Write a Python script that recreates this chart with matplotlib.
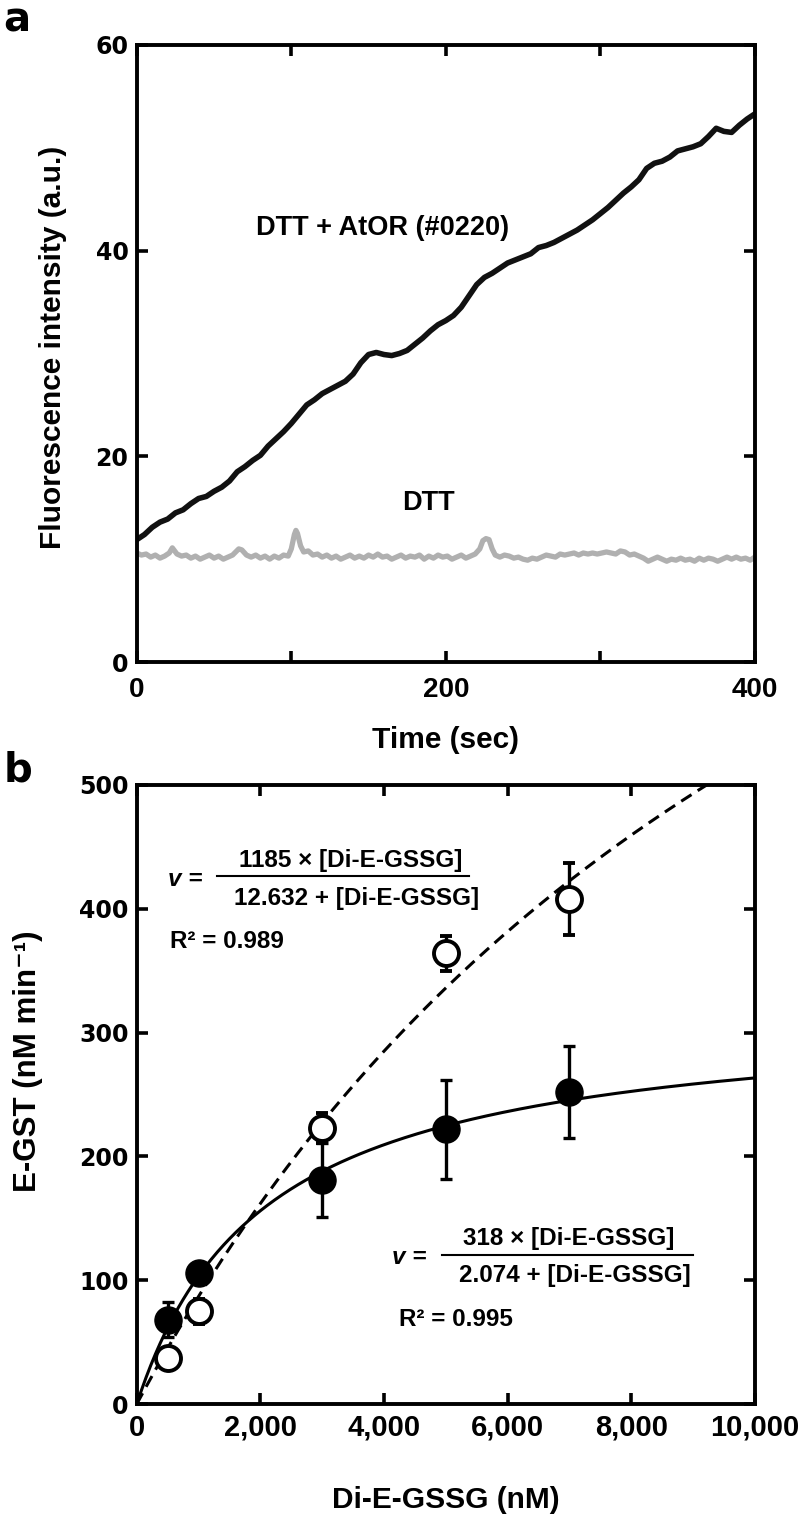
import numpy as np
import matplotlib
matplotlib.use("Agg")
import matplotlib.pyplot as plt
from matplotlib.ticker import FixedLocator, FuncFormatter

# ---- panel a: fluorescence traces ----
t_black = [0, 5, 10, 15, 20, 25, 30, 35, 40, 45, 50, 55, 60, 65, 70, 75, 80, 85, 90, 95,
           100, 105, 110, 115, 120, 125, 130, 135, 140, 145, 150, 155, 160, 165, 170, 175,
           180, 185, 190, 195, 200, 205, 210, 215, 220, 225, 230, 235, 240, 245, 250, 255,
           260, 265, 270, 275, 280, 285, 290, 295, 300, 305, 310, 315, 320, 325, 330, 335,
           340, 345, 350, 355, 360, 365, 370, 375, 380, 385, 390, 395, 400]
f_black = [11.9, 12.4, 13.1, 13.6, 13.9, 14.5, 14.8, 15.4, 15.9, 16.1, 16.6, 17.0, 17.6,
           18.5, 19.0, 19.6, 20.1, 21.0, 21.7, 22.4, 23.2, 24.1, 25.0, 25.5, 26.1, 26.5,
           26.9, 27.3, 28.0, 29.1, 29.9, 30.1, 29.9, 29.8, 30.0, 30.3, 30.9, 31.5, 32.2,
           32.8, 33.2, 33.7, 34.5, 35.6, 36.7, 37.4, 37.8, 38.3, 38.8, 39.1, 39.4, 39.7,
           40.3, 40.5, 40.8, 41.2, 41.6, 42.0, 42.5, 43.0, 43.6, 44.2, 44.9, 45.6, 46.2,
           46.9, 48.0, 48.5, 48.7, 49.1, 49.7, 49.9, 50.1, 50.4, 51.1, 51.9, 51.6, 51.5,
           52.2, 52.8, 53.3]

t_gray = [0, 3, 6, 9, 12, 15, 18, 21, 23, 26, 29, 32, 35, 38, 41, 44, 47, 50, 53, 56, 59,
          62, 66, 68, 71, 74, 77, 80, 83, 86, 89, 92, 95, 98, 100, 102, 103, 104, 106, 108,
          111, 114, 117, 120, 123, 126, 129, 132, 135, 138, 141, 144, 147, 150, 153, 156,
          159, 162, 165, 168, 171, 174, 177, 180, 183, 186, 189, 192, 195, 198, 201, 204,
          207, 210, 213, 216, 219, 222, 224, 226, 228, 230, 232, 235, 238, 241, 244, 247,
          250, 253, 256, 259, 262, 265, 268, 271, 274, 277, 280, 283, 286, 289, 292, 295,
          298, 301, 304, 307, 310, 313, 316, 319, 322, 325, 328, 331, 334, 337, 340, 343,
          346, 349, 352, 355, 358, 361, 364, 367, 370, 373, 376, 379, 382, 385, 388, 391,
          394, 397, 400]
f_gray = [10.6, 10.4, 10.5, 10.2, 10.4, 10.1, 10.3, 10.6, 11.1, 10.5, 10.3, 10.4, 10.1,
          10.3, 10.0, 10.2, 10.4, 10.1, 10.3, 10.0, 10.2, 10.4, 11.0, 10.9, 10.4, 10.2,
          10.4, 10.1, 10.3, 10.0, 10.3, 10.1, 10.4, 10.3, 11.0, 12.4, 12.8, 12.5, 11.3,
          10.7, 10.8, 10.4, 10.5, 10.2, 10.4, 10.1, 10.3, 10.0, 10.2, 10.4, 10.1, 10.3,
          10.1, 10.4, 10.2, 10.5, 10.2, 10.3, 10.0, 10.2, 10.4, 10.1, 10.3, 10.2, 10.4,
          10.0, 10.3, 10.1, 10.4, 10.2, 10.3, 10.0, 10.2, 10.4, 10.1, 10.3, 10.5, 11.0,
          11.8, 12.0, 11.9, 11.0, 10.4, 10.2, 10.4, 10.3, 10.1, 10.2, 10.0, 9.9, 10.1,
          10.0, 10.2, 10.4, 10.3, 10.2, 10.5, 10.4, 10.5, 10.6, 10.4, 10.6, 10.5, 10.6,
          10.5, 10.6, 10.7, 10.6, 10.5, 10.8, 10.7, 10.4, 10.5, 10.3, 10.1, 9.8, 10.0,
          10.2, 10.0, 9.8, 10.0, 9.9, 10.1, 9.9, 10.0, 9.8, 10.1, 9.9, 10.1, 10.0, 9.8,
          10.0, 10.2, 10.0, 10.2, 10.0, 10.1, 9.9, 10.2]

# ---- panel b: kinetics ----
conc = [500, 1000, 3000, 5000, 7000]
rate_filled = [68, 106, 181, 222, 252]
err_filled = [14, 6, 30, 40, 37]
rate_open = [37, 75, 223, 364, 408]
err_open = [5, 10, 12, 14, 29]

VMAX_FILLED, KM_FILLED = 318, 2074
VMAX_OPEN, KM_OPEN = 1185, 12632

COND = ["Liberation Sans", "DejaVu Sans"]
WIDE = ["DejaVu Sans"]

fig = plt.figure(figsize=(8, 15.16), dpi=100)
ax1 = fig.add_axes([0.171, 1 - 662 / 1516, 0.7725, 617 / 1516])
ax2 = fig.add_axes([0.171, 1 - 1404 / 1516, 0.7725, 619 / 1516])


def style_axes(ax, xsize, xpad):
    for s in ax.spines.values():
        s.set_linewidth(2.8)
    ax.tick_params(direction="in", length=8, width=2.6, top=True, right=True)
    ax.tick_params(axis="y", pad=6)
    ax.tick_params(axis="x", pad=xpad)
    for lab in ax.get_yticklabels():
        lab.set_family(WIDE)
        lab.set_fontweight("bold")
        lab.set_fontsize(17)
    for lab in ax.get_xticklabels():
        lab.set_family(COND)
        lab.set_fontweight("bold")
        lab.set_fontsize(xsize)


# panel a
ax1.plot(t_gray, f_gray, color="#b0b0b0", lw=3.8, solid_joinstyle="round")
ax1.plot(t_black, f_black, color="#111111", lw=4, solid_joinstyle="round")
ax1.set_xlim(0, 400)
ax1.set_ylim(0, 60)
ax1.xaxis.set_major_locator(FixedLocator([0, 100, 200, 300, 400]))
ax1.xaxis.set_major_formatter(FuncFormatter(lambda v, p: "" if v in (100, 300) else "%d" % v))
ax1.yaxis.set_major_locator(FixedLocator([0, 20, 40, 60]))
style_axes(ax1, 20, 11)
ax1.set_xlabel("Time (sec)", family=COND, fontweight="bold", fontsize=21.5)
ax1.xaxis.set_label_coords(0.5, -0.104)
ax1.set_ylabel("Fluorescence intensity (a.u.)", family=COND, fontweight="bold", fontsize=21.5)
ax1.yaxis.set_label_coords(-0.113, 0.51)
ax1.text(159, 42.2, "DTT + AtOR (#0220)", family=COND, fontweight="bold", fontsize=19.5,
         ha="center", va="center")
ax1.text(189, 15.5, "DTT", family=COND, fontweight="bold", fontsize=19.5,
         ha="center", va="center")

# panel b
xs = np.linspace(0, 10000, 400)
ax2.plot(xs, VMAX_FILLED * xs / (KM_FILLED + xs), color="black", lw=2.2)
ax2.plot(xs, VMAX_OPEN * xs / (KM_OPEN + xs), color="black", lw=2.2, dashes=(4, 2.4))
ax2.errorbar(conc, rate_open, yerr=err_open, fmt="o", ms=18, mfc="white", mec="black",
             mew=2.8, ecolor="black", elinewidth=2.4, capsize=4.5, capthick=2.4, zorder=3)
ax2.errorbar(conc, rate_filled, yerr=err_filled, fmt="o", ms=19.5, mfc="black", mec="black",
             ecolor="black", elinewidth=2.4, capsize=4.5, capthick=2.4, zorder=4)
ax2.set_xlim(0, 10000)
ax2.set_ylim(0, 500)
ax2.xaxis.set_major_locator(FixedLocator([0, 2000, 4000, 6000, 8000, 10000]))
ax2.xaxis.set_major_formatter(FuncFormatter(lambda v, p: "{:,}".format(int(v))))
ax2.yaxis.set_major_locator(FixedLocator([0, 100, 200, 300, 400, 500]))
style_axes(ax2, 21, 7)
ax2.set_xlabel("Di-E-GSSG (nM)", family=COND, fontweight="bold", fontsize=21.5)
ax2.xaxis.set_label_coords(0.5, -0.133)
ax2.set_ylabel("E-GST (nM min\u207b\u00b9)", family=COND, fontweight="bold", fontsize=22.5)
ax2.yaxis.set_label_coords(-0.152, 0.554)

eq_kw = dict(family=COND, fontweight="bold", fontsize=17.5, ha="center", va="center")
# open-circle fit equation
ax2.text(775, 424, "v =", style="italic", **eq_kw)
ax2.text(3457, 439, "1185 \u00d7 [Di-E-GSSG]", **eq_kw)
ax2.text(3556, 408.6, "12.632 + [Di-E-GSSG]", **eq_kw)
ax2.plot([1305, 5377], [426.5, 426.5], color="black", lw=1.5)
ax2.text(543, 373.5, "R\u00b2 = 0.989", family=COND, fontweight="bold", fontsize=17.5,
         ha="left", va="center")
# filled-circle fit equation
ax2.text(4403, 118.5, "v =", style="italic", **eq_kw)
ax2.text(6982, 133.4, "318 \u00d7 [Di-E-GSSG]", **eq_kw)
ax2.text(7081, 104, "2.074 + [Di-E-GSSG]", **eq_kw)
ax2.plot([4932, 9000], [120.7, 120.7], color="black", lw=1.5)
ax2.text(4238, 68.2, "R\u00b2 = 0.995", family=COND, fontweight="bold", fontsize=17.5,
         ha="left", va="center")

fig.text(0.004, 1 - 20 / 1516, "a", fontsize=29, fontweight="bold", family=WIDE, va="center")
fig.text(0.004, 1 - 770 / 1516, "b", fontsize=29, fontweight="bold", family=WIDE, va="center")

fig.savefig("out.png", dpi=100)
